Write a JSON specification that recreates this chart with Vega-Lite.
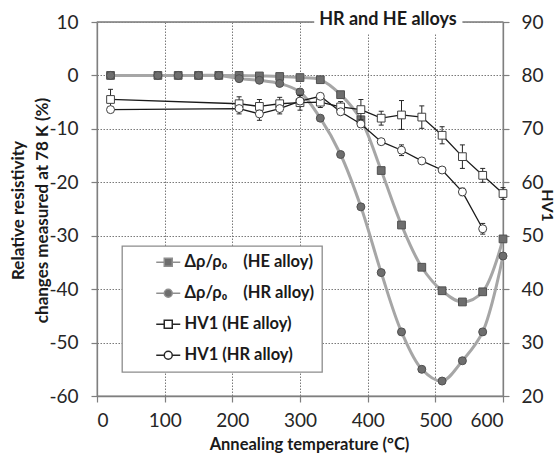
{
  "$schema": "https://vega.github.io/schema/vega-lite/v6.json",
  "width": 406,
  "height": 374,
  "autosize": {"type": "none"},
  "padding": {"left": 97, "top": 22, "right": 55, "bottom": 58},
  "background": "white",
  "datasets": {
    "rho": [
      {"T": 20, "alloy": "HE", "v": 0}, {"T": 90, "alloy": "HE", "v": 0}, {"T": 120, "alloy": "HE", "v": 0},
      {"T": 150, "alloy": "HE", "v": 0}, {"T": 180, "alloy": "HE", "v": 0}, {"T": 210, "alloy": "HE", "v": 0},
      {"T": 240, "alloy": "HE", "v": -0.1}, {"T": 270, "alloy": "HE", "v": -0.2}, {"T": 300, "alloy": "HE", "v": -0.4},
      {"T": 330, "alloy": "HE", "v": -0.8}, {"T": 360, "alloy": "HE", "v": -3.6}, {"T": 390, "alloy": "HE", "v": -8.3},
      {"T": 420, "alloy": "HE", "v": -17.8}, {"T": 450, "alloy": "HE", "v": -28.0}, {"T": 480, "alloy": "HE", "v": -35.9},
      {"T": 510, "alloy": "HE", "v": -40.3}, {"T": 540, "alloy": "HE", "v": -42.4}, {"T": 570, "alloy": "HE", "v": -40.5},
      {"T": 600, "alloy": "HE", "v": -30.6},
      {"T": 20, "alloy": "HR", "v": 0}, {"T": 90, "alloy": "HR", "v": 0}, {"T": 120, "alloy": "HR", "v": 0},
      {"T": 150, "alloy": "HR", "v": 0}, {"T": 180, "alloy": "HR", "v": 0}, {"T": 210, "alloy": "HR", "v": -0.6},
      {"T": 240, "alloy": "HR", "v": -0.9}, {"T": 270, "alloy": "HR", "v": -1.5}, {"T": 300, "alloy": "HR", "v": -3.1},
      {"T": 330, "alloy": "HR", "v": -8.0}, {"T": 360, "alloy": "HR", "v": -14.8}, {"T": 390, "alloy": "HR", "v": -24.6},
      {"T": 420, "alloy": "HR", "v": -36.9}, {"T": 450, "alloy": "HR", "v": -48.0}, {"T": 480, "alloy": "HR", "v": -55.0},
      {"T": 510, "alloy": "HR", "v": -57.2}, {"T": 540, "alloy": "HR", "v": -53.4}, {"T": 570, "alloy": "HR", "v": -48.0},
      {"T": 600, "alloy": "HR", "v": -33.8}
    ],
    "hv": [
      {"T": 20, "alloy": "HE", "v": 75.5, "lo": 73.6, "hi": 77.4},
      {"T": 210, "alloy": "HE", "v": 74.7, "lo": 73.4, "hi": 76.0},
      {"T": 240, "alloy": "HE", "v": 74.2, "lo": 72.9, "hi": 75.5},
      {"T": 270, "alloy": "HE", "v": 74.7, "lo": 73.5, "hi": 75.9},
      {"T": 300, "alloy": "HE", "v": 74.9, "lo": 73.5, "hi": 76.3},
      {"T": 330, "alloy": "HE", "v": 75.0, "lo": 74.0, "hi": 76.0},
      {"T": 360, "alloy": "HE", "v": 74.1, "lo": 73.1, "hi": 75.1},
      {"T": 390, "alloy": "HE", "v": 73.6, "lo": 71.7, "hi": 75.5},
      {"T": 420, "alloy": "HE", "v": 72.0, "lo": 70.7, "hi": 73.3},
      {"T": 450, "alloy": "HE", "v": 72.6, "lo": 69.9, "hi": 75.3},
      {"T": 480, "alloy": "HE", "v": 72.2, "lo": 70.1, "hi": 74.3},
      {"T": 510, "alloy": "HE", "v": 68.8, "lo": 67.2, "hi": 70.4},
      {"T": 540, "alloy": "HE", "v": 64.8, "lo": 62.6, "hi": 67.0},
      {"T": 570, "alloy": "HE", "v": 61.3, "lo": 60.0, "hi": 62.6},
      {"T": 600, "alloy": "HE", "v": 57.9, "lo": 56.8, "hi": 59.0},
      {"T": 20, "alloy": "HR", "v": 73.6, "lo": null, "hi": null},
      {"T": 210, "alloy": "HR", "v": 73.8, "lo": 72.8, "hi": 74.8},
      {"T": 240, "alloy": "HR", "v": 72.8, "lo": 71.6, "hi": 74.0},
      {"T": 270, "alloy": "HR", "v": 73.8, "lo": 72.8, "hi": 74.8},
      {"T": 300, "alloy": "HR", "v": 75.2, "lo": 74.2, "hi": 76.2},
      {"T": 330, "alloy": "HR", "v": 76.1, "lo": null, "hi": null},
      {"T": 360, "alloy": "HR", "v": 73.2, "lo": null, "hi": null},
      {"T": 390, "alloy": "HR", "v": 70.9, "lo": null, "hi": null},
      {"T": 420, "alloy": "HR", "v": 67.6, "lo": null, "hi": null},
      {"T": 450, "alloy": "HR", "v": 66.0, "lo": 65.0, "hi": 67.0},
      {"T": 480, "alloy": "HR", "v": 64.0, "lo": null, "hi": null},
      {"T": 510, "alloy": "HR", "v": 62.3, "lo": null, "hi": null},
      {"T": 540, "alloy": "HR", "v": 58.2, "lo": 57.5, "hi": 58.9},
      {"T": 570, "alloy": "HR", "v": 51.3, "lo": 50.3, "hi": 52.3}
    ],
    "legend": [
      {"series": "Δρ/ρ₀\u00a0\u00a0\u00a0\u00a0(HE alloy)"},
      {"series": "Δρ/ρ₀\u00a0\u00a0\u00a0\u00a0(HR alloy)"},
      {"series": "HV1 (HE alloy)"},
      {"series": "HV1 (HR alloy)"}
    ],
    "title": [{"label": "HR and HE alloys"}]
  },
  "layer": [
    {
      "data": {"name": "rho"},
      "mark": {"type": "line", "interpolate": "catmull-rom", "color": "#a6a6a6", "strokeWidth": 3},
      "encoding": {
        "x": {"field": "T", "type": "quantitative", "scale": {"domain": [0, 600], "nice": false}, "axis": {"values": [0, 100, 200, 300, 400, 500, 600], "title": "Annealing temperature (°C)", "grid": true, "titleX": 212, "titleY": 48, "titleBaseline": "middle", "titleAlign": "center", "titleFontSize": 16.5, "labelPadding": 9}},
        "y": {
          "field": "v", "type": "quantitative",
          "scale": {"domain": [-60, 10], "nice": false, "zero": false},
          "axis": {"orient": "left", "values": [-60, -50, -40, -30, -20, -10, 0, 10], "labelExpr": "replace(datum.label, '\u2212', '-')", "title": ["Relative resistivity", "changes measured at 78 K (%)"], "grid": true, "titleAngle": -90, "titleX": -79, "titleY": 188, "titleAlign": "center", "titleBaseline": "middle", "titleLineHeight": 24, "titleFontSize": 17, "labelPadding": 13}
        },
        "detail": {"field": "alloy"}
      }
    },
    {
      "data": {"name": "rho"},
      "transform": [{"filter": "datum.alloy == 'HE'"}],
      "mark": {"type": "square", "size": 60, "color": "#6e6e6e", "stroke": "#505050", "strokeWidth": 1, "opacity": 1},
      "encoding": {
        "x": {"field": "T", "type": "quantitative"},
        "y": {"field": "v", "type": "quantitative", "scale": {"domain": [-60, 10], "nice": false, "zero": false}, "axis": null}
      }
    },
    {
      "data": {"name": "rho"},
      "transform": [{"filter": "datum.alloy == 'HR'"}],
      "mark": {"type": "circle", "size": 64, "color": "#6e6e6e", "stroke": "#505050", "strokeWidth": 1, "opacity": 1},
      "encoding": {
        "x": {"field": "T", "type": "quantitative"},
        "y": {"field": "v", "type": "quantitative", "scale": {"domain": [-60, 10], "nice": false, "zero": false}, "axis": null}
      }
    },
    {
      "data": {"name": "legend"},
      "transform": [{"filter": "datum.series == 'none'"}],
      "mark": {"type": "point", "filled": true, "opacity": 1},
      "encoding": {
        "x": {"datum": 0, "type": "quantitative"},
        "y": {"datum": 0, "type": "quantitative", "scale": {"domain": [-60, 10], "nice": false, "zero": false}, "axis": null},
        "shape": {"field": "series", "type": "nominal", "scale": {"domain": ["Δρ/ρ₀\u00a0\u00a0\u00a0\u00a0(HE alloy)", "Δρ/ρ₀\u00a0\u00a0\u00a0\u00a0(HR alloy)", "HV1 (HE alloy)", "HV1 (HR alloy)"], "range": ["M-3,0H-1M1,0H3M-1,-1H1V1H-1Z", "M-3,0H-1M1,0H3M-1,0A1,1,0,1,0,1,0A1,1,0,1,0,-1,0Z", "M-3,0H-1M1,0H3M-1,-1H1V1H-1Z", "M-3,0H-1M1,0H3M-1,0A1,1,0,1,0,1,0A1,1,0,1,0,-1,0Z"]}},
        "fill": {"field": "series", "type": "nominal", "scale": {"domain": ["Δρ/ρ₀\u00a0\u00a0\u00a0\u00a0(HE alloy)", "Δρ/ρ₀\u00a0\u00a0\u00a0\u00a0(HR alloy)", "HV1 (HE alloy)", "HV1 (HR alloy)"], "range": ["#6e6e6e", "#6e6e6e", "#ffffff", "#ffffff"]}},
        "stroke": {"field": "series", "type": "nominal", "scale": {"domain": ["Δρ/ρ₀\u00a0\u00a0\u00a0\u00a0(HE alloy)", "Δρ/ρ₀\u00a0\u00a0\u00a0\u00a0(HR alloy)", "HV1 (HE alloy)", "HV1 (HR alloy)"], "range": ["#8f8f8f", "#8f8f8f", "#262626", "#262626"]}}
      }
    },
    {
      "data": {"name": "hv"},
      "mark": {"type": "rule", "color": "#262626", "strokeWidth": 1},
      "encoding": {
        "x": {"field": "T", "type": "quantitative"},
        "y": {"field": "lo", "type": "quantitative", "scale": {"domain": [20, 90], "nice": false, "zero": false}, "axis": null}, "y2": {"field": "hi"}
      }
    },
    {
      "data": {"name": "hv"},
      "mark": {"type": "tick", "orient": "horizontal", "size": 5, "thickness": 1, "color": "#262626", "opacity": 1},
      "encoding": {
        "x": {"field": "T", "type": "quantitative"},
        "y": {"field": "lo", "type": "quantitative", "scale": {"domain": [20, 90], "nice": false, "zero": false}, "axis": null}
      }
    },
    {
      "data": {"name": "hv"},
      "mark": {"type": "tick", "orient": "horizontal", "size": 5, "thickness": 1, "color": "#262626", "opacity": 1},
      "encoding": {
        "x": {"field": "T", "type": "quantitative"},
        "y": {"field": "hi", "type": "quantitative", "scale": {"domain": [20, 90], "nice": false, "zero": false}, "axis": null}
      }
    },
    {
      "data": {"name": "hv"},
      "mark": {"type": "line", "color": "#1a1a1a", "strokeWidth": 1.3},
      "encoding": {
        "x": {"field": "T", "type": "quantitative"},
        "y": {
          "field": "v", "type": "quantitative",
          "scale": {"domain": [20, 90], "nice": false, "zero": false},
          "axis": {"orient": "right", "values": [20, 30, 40, 50, 60, 70, 80, 90], "grid": false, "title": "HV1", "titleAngle": 90, "titleX": 43, "titleY": 183, "titleAlign": "center", "titleBaseline": "middle", "titleFontSize": 16, "labelPadding": 12}
        },
        "detail": {"field": "alloy"}
      }
    },
    {
      "data": {"name": "hv"},
      "transform": [{"filter": "datum.alloy == 'HE'"}],
      "mark": {"type": "square", "size": 60, "color": "#ffffff", "stroke": "#404040", "strokeWidth": 1, "opacity": 1},
      "encoding": {
        "x": {"field": "T", "type": "quantitative"},
        "y": {"field": "v", "type": "quantitative", "scale": {"domain": [20, 90], "nice": false, "zero": false}, "axis": null}
      }
    },
    {
      "data": {"name": "hv"},
      "transform": [{"filter": "datum.alloy == 'HR'"}],
      "mark": {"type": "circle", "size": 64, "color": "#ffffff", "stroke": "#404040", "strokeWidth": 1, "opacity": 1},
      "encoding": {
        "x": {"field": "T", "type": "quantitative"},
        "y": {"field": "v", "type": "quantitative", "scale": {"domain": [20, 90], "nice": false, "zero": false}, "axis": null}
      }
    },
    {
      "data": {"name": "title"},
      "mark": {"type": "rule", "color": "#8c8c8c", "strokeWidth": 1.3},
      "encoding": {
        "x": {"datum": 0, "type": "quantitative"}, "x2": {"datum": 600},
        "y": {"datum": 10, "type": "quantitative", "scale": {"domain": [-60, 10], "nice": false, "zero": false}, "axis": null}
      }
    },
    {
      "data": {"name": "title"},
      "mark": {"type": "rect", "color": "white", "opacity": 1},
      "encoding": {
        "x": {"datum": 321, "type": "quantitative"}, "x2": {"datum": 540},
        "y": {"datum": 7.9, "type": "quantitative", "scale": {"domain": [-60, 10], "nice": false, "zero": false}, "axis": null},
        "y2": {"datum": 12.6}
      }
    },
    {
      "data": {"name": "title"},
      "mark": {"type": "text", "font": "Lato", "fontSize": 18, "fontWeight": "bold", "color": "#1a1a1a", "align": "center", "baseline": "middle"},
      "encoding": {
        "text": {"field": "label"},
        "x": {"datum": 430, "type": "quantitative"},
        "y": {"datum": 10.3, "type": "quantitative", "scale": {"domain": [-60, 10], "nice": false, "zero": false}, "axis": null}
      }
    }
  ],
  "resolve": {"scale": {"y": "independent"}},
  "config": {
    "font": "Lato",
    "view": {"stroke": "#8c8c8c", "strokeWidth": 1.3},
    "axis": {
      "labelFont": "Lato", "labelFontSize": 19, "labelColor": "#262626",
      "titleFont": "Lato", "titleFontSize": 17, "titleFontWeight": "bold", "titleColor": "#1a1a1a",
      "domainColor": "#7f7f7f", "domainWidth": 1.3, "tickColor": "#7f7f7f", "tickSize": 6, "tickWidth": 1.2,
      "gridColor": "#7a7a7a", "gridDash": [1.5, 1.5], "gridWidth": 1, "gridOpacity": 1
    },
    "legend": {
      "orient": "none", "legendX": 25, "legendY": 224, "title": null,
      "padding": 8, "strokeColor": "#8c8c8c", "fillColor": "white", "strokeWidth": 1.3,
      "labelFont": "Lato", "labelFontSize": 16.5, "labelFontWeight": "bold", "labelColor": "#1a1a1a", "labelLimit": 300,
      "symbolSize": 64, "symbolOffset": 30, "labelOffset": 8, "rowPadding": 14, "symbolStrokeWidth": 1.5
    }
  }
}
